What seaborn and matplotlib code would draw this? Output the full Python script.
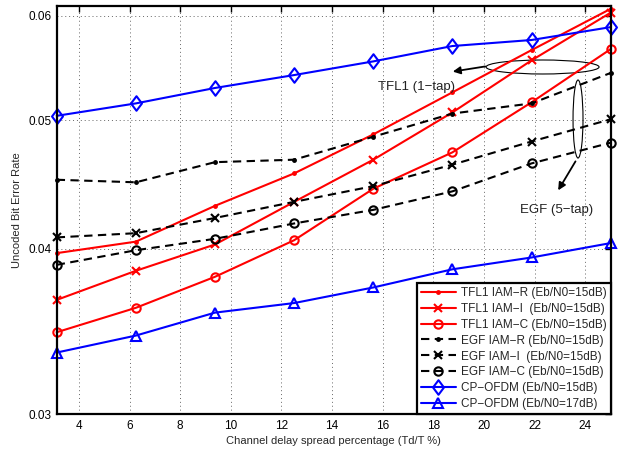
import matplotlib
matplotlib.use("Agg")
import matplotlib.pyplot as plt
import seaborn as sns
import numpy as np
from matplotlib.patches import Ellipse
from matplotlib.path import Path
from matplotlib.ticker import FixedLocator, FixedFormatter, NullLocator

# ---- data ----
delay_spread = [3.125, 6.25, 9.375, 12.5, 15.625, 18.75, 21.875, 25]
tfl1_iam_r = [0.0397, 0.0405, 0.0431, 0.0456, 0.0488, 0.0525, 0.0565, 0.0607]
tfl1_iam_i = [0.0366, 0.0385, 0.0403, 0.0434, 0.0467, 0.0507, 0.0555, 0.0603]
tfl1_iam_c = [0.0346, 0.0361, 0.0381, 0.0406, 0.0444, 0.0473, 0.0516, 0.0566]
egf_iam_r = [0.0451, 0.0449, 0.0465, 0.0467, 0.0486, 0.0506, 0.0515, 0.0543]
egf_iam_i = [0.0408, 0.0411, 0.0422, 0.0434, 0.0446, 0.0463, 0.0482, 0.0501]
egf_iam_c = [0.0389, 0.0399, 0.0407, 0.0418, 0.0428, 0.0442, 0.0464, 0.0481]
cp_ofdm_15 = [0.0504, 0.0515, 0.0529, 0.0541, 0.0554, 0.0569, 0.0575, 0.0588]
cp_ofdm_17 = [0.0334, 0.0344, 0.0358, 0.0364, 0.0374, 0.0386, 0.0394, 0.0404]

labels = [
    "TFL1 IAM\u2212R (Eb/N0=15dB)",
    "TFL1 IAM\u2212I  (Eb/N0=15dB)",
    "TFL1 IAM\u2212C (Eb/N0=15dB)",
    "EGF IAM\u2212R (Eb/N0=15dB)",
    "EGF IAM\u2212I  (Eb/N0=15dB)",
    "EGF IAM\u2212C (Eb/N0=15dB)",
    "CP\u2212OFDM (Eb/N0=15dB)",
    "CP\u2212OFDM (Eb/N0=17dB)",
]
x_ticks = [4, 6, 8, 10, 12, 14, 16, 18, 20, 22, 24]
y_ticks = [0.03, 0.04, 0.05, 0.06]
y_tick_labels = ["0.03", "0.04", "0.05", "0.06"]

sns.set_style("white")
plt.rcParams['font.family'] = ['Liberation Sans', 'DejaVu Sans']

fig = plt.figure(figsize=(6.19, 4.54), dpi=100)
ax = fig.add_axes([0.0916, 0.0874, 0.8950, 0.8994])

diamond = Path([(0, 1), (0.75, 0), (0, -1), (-0.75, 0), (0, 1)],
               [Path.MOVETO, Path.LINETO, Path.LINETO, Path.LINETO, Path.CLOSEPOLY])

series = [
    (tfl1_iam_r, 'red', '.', '-', 4, 'red'),
    (tfl1_iam_i, 'red', 'x', '-', 5.5, 'red'),
    (tfl1_iam_c, 'red', 'o', '-', 6, 'none'),
    (egf_iam_r, 'black', '.', '--', 4, 'black'),
    (egf_iam_i, 'black', 'x', '--', 5.5, 'black'),
    (egf_iam_c, 'black', 'o', '--', 6, 'none'),
    (cp_ofdm_15, 'blue', diamond, '-', 10.5, 'none'),
    (cp_ofdm_17, 'blue', '^', '-', 7.5, 'none'),
]

for (vals, col, mk, ls, ms, mfc), lab in zip(series, labels):
    sns.lineplot(x=delay_spread, y=vals, ax=ax, color=col, marker=mk,
                 markersize=ms, markerfacecolor=mfc, markeredgecolor=col,
                 markeredgewidth=1.5, linewidth=1.5, label=lab, clip_on=False,
                 zorder=3)
    line = ax.lines[-1]
    if ls == '--':
        line.set_dashes((4, 2.6))

ax.set_yscale('log')
ax.set_xlim(3.125, 25)
ax.set_ylim(0.03, 0.061)
ax.xaxis.set_major_locator(FixedLocator(x_ticks))
ax.yaxis.set_major_locator(FixedLocator(y_ticks))
ax.yaxis.set_major_formatter(FixedFormatter(y_tick_labels))
ax.yaxis.set_minor_locator(NullLocator())
ax.tick_params(axis='both', which='both', direction='in', length=4, width=1,
               top=True, right=True, labelsize=8.5, pad=4, colors='black')
ax.grid(True, which='major', linestyle=(0, (1, 3)), color='0.4', linewidth=0.7)
for sp in ax.spines.values():
    sp.set_visible(True)
    sp.set_color('black')
    sp.set_linewidth(1.6)
    sp.set_zorder(4)

ax.set_xlabel("Channel delay spread percentage (Td/T %)", fontsize=8, labelpad=3)
ax.set_ylabel("Uncoded Bit Error Rate", fontsize=8, labelpad=4)

leg = ax.legend(loc='lower right', borderaxespad=0, frameon=True, fancybox=False,
                edgecolor='black', framealpha=1, fontsize=8.5, handlelength=3.0,
                labelspacing=0.33, borderpad=0.35, handletextpad=0.4)
leg.get_frame().set_linewidth(1.6)
leg.set_zorder(5)

# annotations
ax.add_patch(Ellipse((0.877, 0.8506), 0.204, 0.0343, transform=ax.transAxes,
                     fill=False, edgecolor='black', linewidth=0.8))
ax.add_patch(Ellipse((0.941, 0.7232), 0.018, 0.191, transform=ax.transAxes,
                     fill=False, edgecolor='black', linewidth=0.8))
ax.annotate("", xy=(0.710, 0.8383), xytext=(0.7784, 0.8530), xycoords='axes fraction',
            arrowprops=dict(arrowstyle='-|>', color='black', lw=1.3, mutation_scale=11))
ax.annotate("", xy=(0.9026, 0.5427), xytext=(0.939, 0.6253), xycoords='axes fraction',
            arrowprops=dict(arrowstyle='-|>', color='black', lw=1.3, mutation_scale=11))
ax.text(0.6486, 0.8017, "TFL1 (1\u2212tap)", transform=ax.transAxes, ha='center',
        va='center', fontsize=9.5, color='#222222')
ax.text(0.9031, 0.5004, "EGF (5\u2212tap)", transform=ax.transAxes, ha='center',
        va='center', fontsize=9.5, color='#222222')

fig.savefig("out.png", dpi=100)
